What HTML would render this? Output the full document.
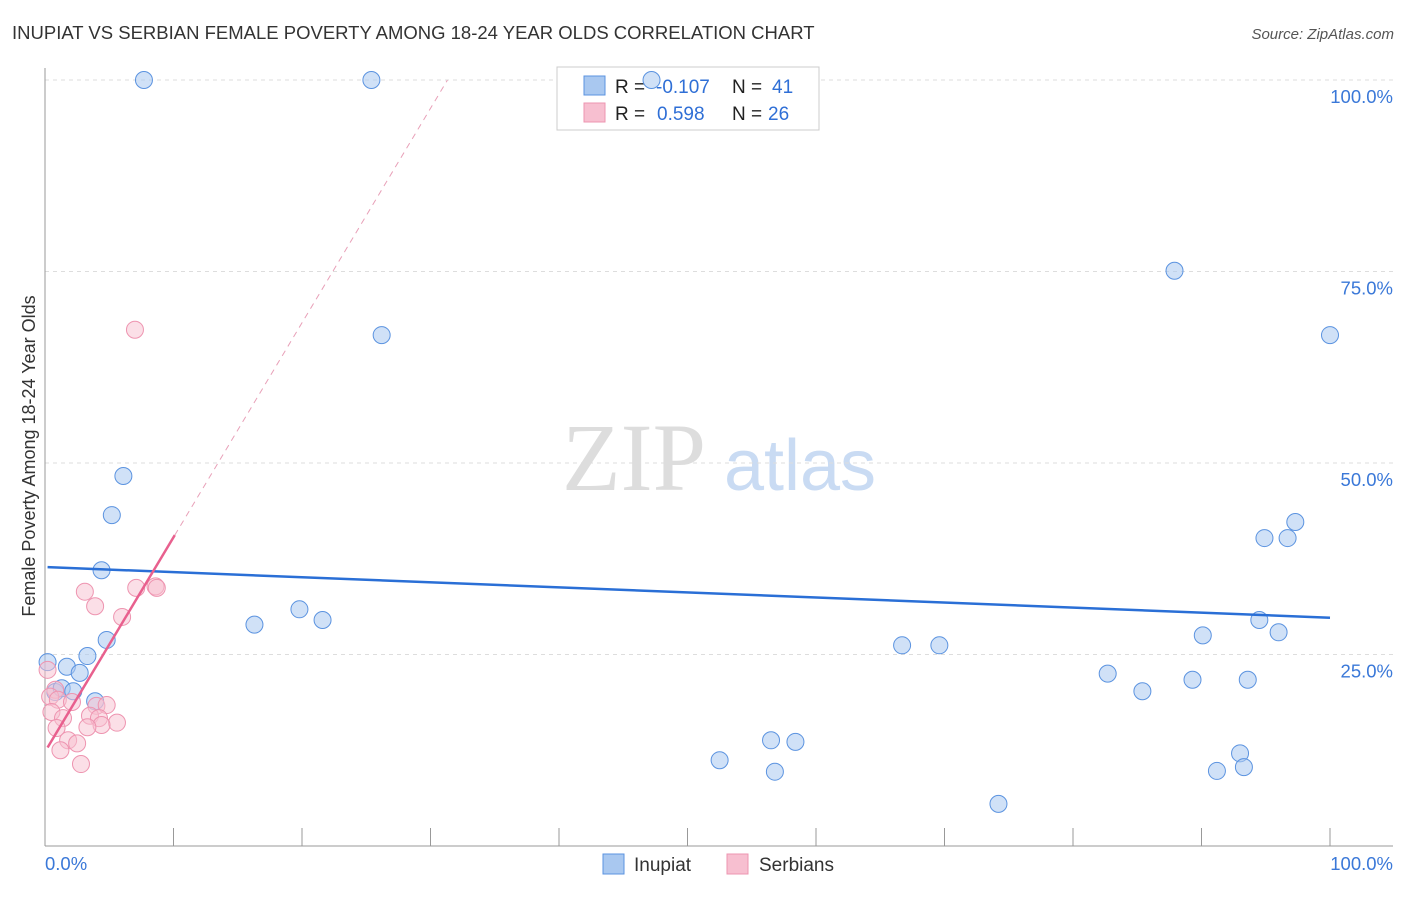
<!DOCTYPE html>
<html><head><meta charset="utf-8"><style>
body{margin:0;background:#fff;font-family:"Liberation Sans",sans-serif;}
</style></head><body>
<svg id="c" width="1406" height="892" xmlns="http://www.w3.org/2000/svg" font-family="Liberation Sans, sans-serif">
<text x="12" y="39" font-size="18.5" fill="#333">INUPIAT VS SERBIAN FEMALE POVERTY AMONG 18-24 YEAR OLDS CORRELATION CHART</text>
<text x="1394" y="39" font-size="15" fill="#555" font-style="italic" text-anchor="end">Source: ZipAtlas.com</text>
<text x="634" y="490" font-size="96" fill="#ddd" font-family="Liberation Serif, serif" text-anchor="middle">ZIP</text>
<text x="800" y="490" font-size="72" fill="#c9dbf3" text-anchor="middle">atlas</text>
<g id="grid"></g><g id="axes"></g>
<text x="35" y="456" font-size="18" fill="#333" text-anchor="middle" transform="rotate(-90 35 456)">Female Poverty Among 18-24 Year Olds</text>
<g>
<rect x="557" y="67" width="262" height="63" fill="#fff" stroke="#ccc"/>
<rect x="584" y="76" width="21" height="19" fill="#a9c8f0" stroke="#5b93e0"/>
<rect x="584" y="103" width="21" height="19" fill="#f7bfd0" stroke="#ee94b0"/>
<text x="615" y="93" font-size="19" fill="#222">R = </text><text x="656" y="93" font-size="19" fill="#2f6fd6">-0.107</text>
<text x="732" y="93" font-size="19" fill="#222">N = </text><text x="772" y="93" font-size="19" fill="#2f6fd6">41</text>
<text x="615" y="120" font-size="19" fill="#222">R = </text><text x="657" y="120" font-size="19" fill="#2f6fd6">0.598</text>
<text x="732" y="120" font-size="19" fill="#222">N = </text><text x="768" y="120" font-size="19" fill="#2f6fd6">26</text>
</g>
<g id="marks"></g>
<g>
<rect x="603" y="854" width="21" height="20" fill="#a9c8f0" stroke="#5b93e0"/>
<text x="634" y="871" font-size="19" fill="#333">Inupiat</text>
<rect x="727" y="854" width="21" height="20" fill="#f7bfd0" stroke="#ee94b0"/>
<text x="759" y="871" font-size="19" fill="#333">Serbians</text>
</g>
</svg>
<script>
const inupiatX=[7.7,25.4,47.2,87.9,100,26.2,6.1,5.2,4.4,97.3,94.9,96.7,16.3,19.8,21.6,4.8,3.3,0.2,1.7,2.7,0.8,1.3,2.2,3.9,66.7,69.6,90.1,94.5,96.0,82.7,85.4,89.3,93.6,52.5,56.5,58.4,56.8,74.2,91.2,93.0,93.3];
const inupiatY=[100,100,100,75.1,66.7,66.7,48.3,43.2,36.0,42.3,40.2,40.2,28.9,30.9,29.5,26.9,24.8,24.0,23.4,22.6,20.1,20.6,20.2,18.9,26.2,26.2,27.5,29.5,27.9,22.5,20.2,21.7,21.7,11.2,13.8,13.6,9.7,5.5,9.8,12.1,10.3];
const serbX=[7.0,3.1,3.9,7.1,8.6,8.7,6.0,0.2,0.8,0.4,1.0,2.1,0.5,1.4,4.0,4.8,3.5,4.2,5.6,4.4,3.3,0.9,1.8,2.5,1.2,2.8];
const serbY=[67.4,33.2,31.3,33.7,33.9,33.7,29.9,23.0,20.4,19.5,19.1,18.8,17.5,16.7,18.3,18.4,17.0,16.7,16.1,15.8,15.5,15.4,13.8,13.4,12.5,10.7];
const yTicks=[25,50,75,100];
const xTickLabels=["0.0%","100.0%"];
const blueTrend=[36.4,29.8];
const pinkTrend=[12.3,2.8];
const NS="http://www.w3.org/2000/svg";
const sx=v=>45+v*12.85, sy=v=>846-v*7.66;
function mk(p,t,a){const e=document.createElementNS(NS,t);for(const k in a)e.setAttribute(k,a[k]);document.getElementById(p).appendChild(e);return e;}
yTicks.forEach(t=>{
 const l=mk('grid','line',{x1:45,x2:1393,y1:sy(t),y2:sy(t),stroke:'#ddd','stroke-dasharray':'4,4'});
 
 
 const tx=mk('grid','text',{x:1393,y:sy(t)+23,'font-size':18.5,fill:'#3a78d8','text-anchor':'end'});
 tx.textContent=t.toFixed(1)+'%';
 
 
});
let ax=mk('axes','line',{x1:45,x2:45,y1:68,y2:846,stroke:'#999'});


ax=mk('axes','line',{x1:45,x2:1393,y1:846,y2:846,stroke:'#999'});


for(let i=0;i<=10;i++){const t=mk('axes','line',{x1:sx(i*10),x2:sx(i*10),y1:828,y2:846,stroke:'#999'});
 
 }
[[45,'start'],[1393,'end']].forEach((p,i)=>{const t=mk('axes','text',{x:p[0],y:870,'font-size':18.5,fill:'#3a78d8','text-anchor':p[1]});t.textContent=xTickLabels[i];
 
 });
inupiatX.forEach((x,i)=>{const c=mk('marks','circle',{cx:sx(x),cy:sy(inupiatY[i]),r:8.5,fill:'#a9c8f0','fill-opacity':0.55,stroke:'#5b93e0','stroke-width':1});
 
 });
serbX.forEach((x,i)=>{const c=mk('marks','circle',{cx:sx(x),cy:sy(serbY[i]),r:8.5,fill:'#f7bfd0','fill-opacity':0.5,stroke:'#ee94b0','stroke-width':1});
 
 });
let tl=mk('marks','line',{x1:sx(0.2),y1:sy(blueTrend[0]),x2:sx(100),y2:sy(blueTrend[1]),stroke:'#2a6fd6','stroke-width':2.5});


const pEnd=Math.max(...serbX)+1.4, pTop=(100-pinkTrend[0])/pinkTrend[1];
tl=mk('marks','line',{x1:sx(0.2),y1:sy(pinkTrend[0]+0.2*pinkTrend[1]),x2:sx(pEnd),y2:sy(pinkTrend[0]+pEnd*pinkTrend[1]),stroke:'#e8608e','stroke-width':2.5});


tl=mk('marks','line',{x1:sx(pEnd),y1:sy(pinkTrend[0]+pEnd*pinkTrend[1]),x2:sx(pTop),y2:sy(100),stroke:'#e8a0b8','stroke-width':1,'stroke-dasharray':'6,5'});


</script>
</body></html>
